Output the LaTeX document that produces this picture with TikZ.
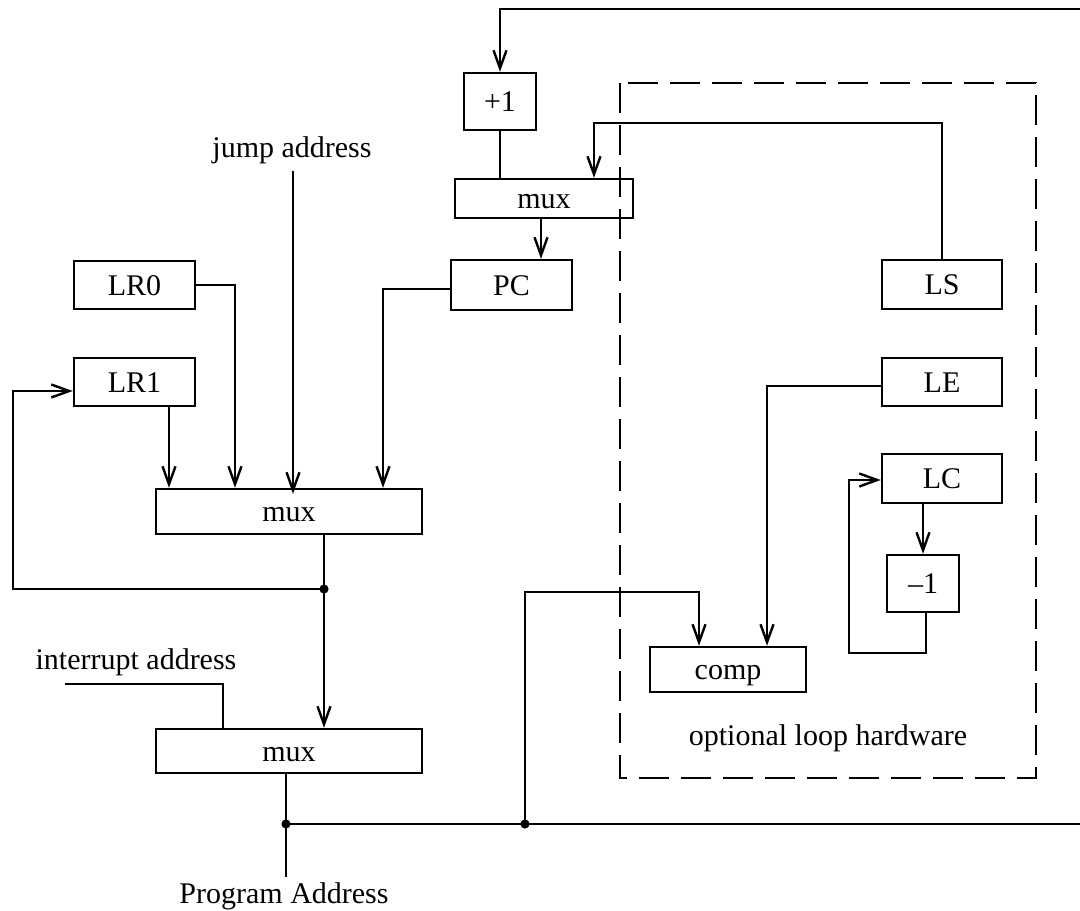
\documentclass[tikz,border=0pt]{standalone}
\usepackage{fontspec}
\setmainfont{Liberation Serif}
\usetikzlibrary{arrows.meta}
\begin{document}
\begin{tikzpicture}[x=0.5pt,y=-0.5pt,line width=1.2pt,
  >={Straight Barb[length=9pt,width=6.5pt]},
  blk/.style={draw,inner sep=0pt,text height=10pt,text depth=0pt,font=\fontsize{15}{18}\selectfont},
  lbl/.style={inner sep=0pt,anchor=base,font=\fontsize{15}{18}\selectfont}]
  \useasboundingbox (0,0) rectangle (1080,910);
  % registers and muxes
  \node[blk,minimum width=36pt,minimum height=28.5pt] (plusone) at (500,101.5) {+1};
  \node[blk,minimum width=89pt,minimum height=19.5pt] (muxpc) at (544,198.5) {mux};
  \node[blk,minimum width=60.5pt,minimum height=25pt] (pc) at (511.5,285) {PC};
  \node[blk,minimum width=60.5pt,minimum height=24pt] (lr0) at (134.5,285) {LR0};
  \node[blk,minimum width=60.5pt,minimum height=24pt] (lr1) at (134.5,382) {LR1};
  \node[blk,minimum width=133pt,minimum height=22.5pt] (muxsel) at (289,511.5) {mux};
  \node[blk,minimum width=133pt,minimum height=22pt] (muxint) at (289,751) {mux};
  % loop hardware
  \draw[dash pattern=on 15pt off 6pt] (620,83) rectangle (1036,778);
  \node[blk,minimum width=60pt,minimum height=24.5pt] (ls) at (942,284.5) {LS};
  \node[blk,minimum width=60pt,minimum height=24pt] (le) at (942,382) {LE};
  \node[blk,minimum width=60pt,minimum height=24.5pt] (lc) at (942,478.5) {LC};
  \node[blk,minimum width=36pt,minimum height=28.5pt] (minusone) at (923,583.5) {\textendash1};
  \node[blk,minimum width=78pt,minimum height=22.5pt] (comp) at (728,669.5) {comp};
  \node[lbl] (opt) at (828,745) {optional loop hardware};
  % labels
  \node[lbl] (jump) at (292,157) {jump address};
  \node[lbl] (intr) at (136,669) {interrupt address};
  \node[lbl] (prog) at (284,903) {Program Address};
  \coordinate (edgetop) at (1080,9);
  \coordinate (lsturn) at (594,123);
  \coordinate (fork) at (324,589);
  \coordinate (fbl) at (13,589);
  \coordinate (intin) at (65,684);
  \coordinate (pa) at (286,877);
  \coordinate (busl) at (286,824);
  \coordinate (busm) at (525,824);
  \coordinate (edgebot) at (1080,824);
  \coordinate (cmpturn) at (699,592);
  \coordinate (lcloop) at (849,653);
  % PC path
  \draw[->] (edgetop) -| (plusone.north);
  \draw (plusone.south) -- (plusone.south |- muxpc.north);
  \draw[->] (ls.north) |- (lsturn) -- (lsturn |- muxpc.north);
  \draw[->] ([xshift=-1.5pt]muxpc.south) -- ([xshift=-1.5pt]muxpc.south |- pc.north);
  % inputs of the address mux
  \draw[->] ([yshift=-2pt]pc.west) -| ([xshift=47pt]muxsel.north);
  \draw[->] (lr0.east) -| ([xshift=-27pt]muxsel.north);
  \draw[->] ([xshift=17.25pt]lr1.south) -- ([xshift=17.25pt]lr1.south |- muxsel.north);
  \draw[->] ([xshift=0.5pt,yshift=-3pt]jump.south) -- ([xshift=0.5pt,yshift=-3pt]jump.south |- muxsel.north);
  \draw (muxsel.south -| fork) -- (fork);
  \draw[->] (fork) -- (fork |- muxint.north);
  \draw[->] (fork) -- (fbl) |- ([yshift=-4.5pt]lr1.west);
  \fill (fork) circle (2.3pt);
  % interrupt mux and output
  \draw (intin) -| ([xshift=-33pt]muxint.north);
  \draw (muxint.south -| pa) -- (pa);
  \draw (busl) -- (edgebot);
  \draw[->] (busm) |- (cmpturn) -- (cmpturn |- comp.north);
  \fill (busl) circle (2.3pt) (busm) circle (2.3pt);
  % loop end and loop counter
  \draw[->] ([yshift=-2pt]le.west) -| ([xshift=19.5pt]comp.north);
  \draw[->] (lc.south -| minusone.north) -- (minusone.north);
  \draw[->] ([xshift=1.5pt]minusone.south) |- (lcloop) |- ([yshift=-0.75pt]lc.west);
\end{tikzpicture}
\end{document}
